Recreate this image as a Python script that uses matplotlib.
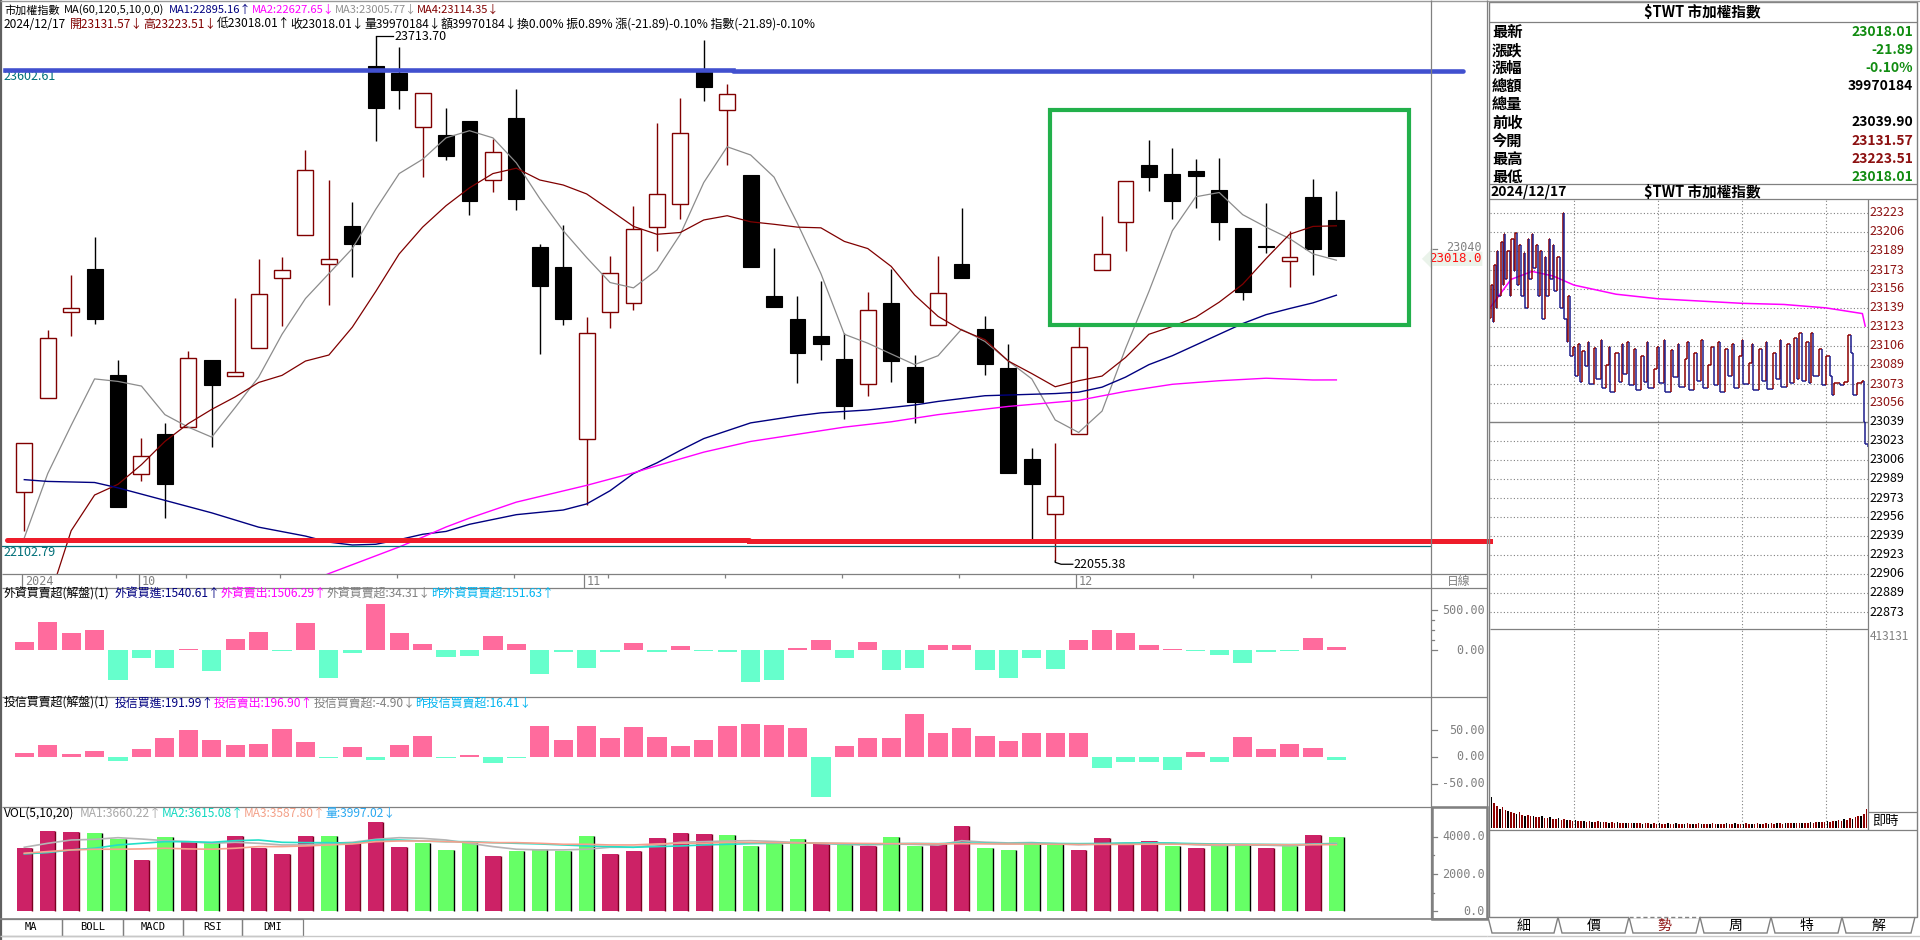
import numpy as np
import matplotlib
matplotlib.use("Agg")
import matplotlib.pyplot as plt
from matplotlib.collections import LineCollection
from matplotlib.patches import Rectangle, Polygon

FONT = ['Noto Sans CJK TC', 'DejaVu Sans']
MONO = ['DejaVu Sans Mono', 'Noto Sans CJK TC']
plt.rcParams['font.family'] = FONT

# ---------------- daily data, 2024/09/24 .. 2024/12/17 ----------------
opens = [22273, 22571, 22842, 22978, 22643, 22330, 22456, 22478, 22689, 22639,
         22729, 22950, 23084, 22993, 23114, 23618, 23597, 23428, 23401, 23445,
         23258, 23455, 23047, 22984, 22441, 22842, 22870, 23112, 23182, 23603,
         23479, 23275, 22892, 22820, 22766, 22694, 22614, 22871, 22668, 22800,
         22993, 22789, 22665, 22377, 22203, 22456, 22974, 23128, 23305, 23277,
         23286, 23226, 23107, 23050, 23002, 23205, 23131.57]
highs = [22428, 22785, 22960, 23080, 22690, 22445, 22492, 22718, 22689, 22885,
         23011, 23015, 23354, 23259, 23189, 23713.70, 23680, 23533, 23488, 23445,
         23389, 23547, 23056, 23116, 22826, 23019, 23177, 23440, 23519, 23700,
         23561, 23275, 23045, 22892, 22940, 22777, 22905, 22978, 22706, 23020,
         23172, 22829, 22741, 22413, 22428, 22794, 23145, 23255, 23386, 23361,
         23326, 23329, 23107, 23188, 23097, 23261, 23223.51]
lows = [22151, 22571, 22767, 22804, 22225, 22309, 22193, 22478, 22416, 22639,
        22729, 22799, 23084, 22865, 22952, 23381, 23482, 23270, 23321, 23150,
        23222, 23165, 22710, 22802, 22232, 22793, 22850, 23036, 23135, 23509,
        23308, 22983, 22859, 22619, 22692, 22503, 22578, 22622, 22490, 22800,
        22948, 22644, 22335, 22123, 22055.38, 22456, 22974, 23036, 23225, 23137,
        23172, 23071, 22881, 23030, 22922, 22960, 23018.01]
closes = [22428, 22760, 22856, 22821, 22225, 22386, 22300, 22698, 22610, 22653,
          22898, 22974, 23290, 23009, 23056, 23488, 23544, 23533, 23336, 23194,
          23346, 23198, 22925, 22821, 22777, 22965, 23103, 23216, 23406, 23553,
          23530, 22983, 22859, 22714, 22742, 22546, 22847, 22688, 22557, 22901,
          22948, 22679, 22335, 22298, 22260, 22733, 23024, 23255, 23269, 23194,
          23273, 23125, 22904, 23046, 23017, 23039.90, 23018.01]

ma5 = [22128.7, 22331.8, 22484, 22630.8, 22622.9, 22608.2, 22518, 22478.5, 22446.9, 22540.5,
       22636.4, 22771.8, 22884.6, 22963.5, 23042.5, 23166.6, 23279.4, 23324.5, 23392.2, 23414.8,
       23392.2, 23313.3, 23200.5, 23098.9, 23014.3, 22935.3, 22918.4, 22974.8, 23087.6, 23251.2,
       23364, 23338.1, 23268.1, 23121.5, 22963.5, 22771.8, 22743.6, 22709.7, 22675.9, 22704.1,
       22787.6, 22749.2, 22687.2, 22630.8, 22501.1, 22461.6, 22529.2, 22726.7, 22907.1, 23098.9,
       23206.1, 23219.6, 23149.7, 23110.2, 23074.1, 23025.6, 23005.77]
ma10 = [21734, 21922, 22151.3, 22264.1, 22297.9, 22360, 22433.3, 22489.7, 22534.6, 22574,
        22619.5, 22642, 22687.2, 22706.3, 22794.3, 22907.1, 23025.6, 23110.2, 23177.9, 23234.3,
        23279.4, 23296.3, 23259.1, 23243.3, 23215.1, 23164.3, 23112.5, 23087.6, 23093.3, 23132.8,
        23146.3, 23127.1, 23119.2, 23110.2, 23108, 23065.1, 23042.5, 22986.1, 22895.9, 22828.2,
        22785.3, 22754.9, 22687.2, 22647.7, 22606, 22625.1, 22639.8, 22698.5, 22771.8, 22796.6,
        22825.9, 22873.3, 22929.7, 23010.9, 23087.6, 23112.5, 23114.35]
ma60_at = [0, 1, 3, 4, 6, 8, 10, 12, 13, 14, 15, 16, 17, 18, 19, 21, 23, 24, 25, 26,
           27, 28, 29, 30, 31, 33, 34, 36, 38, 39, 41, 44, 45, 46, 47, 48, 49, 50, 51, 52,
           53, 54, 55, 56]
ma60 = [22312.6, 22307, 22303.6, 22286.7, 22247.2, 22207.7, 22162.6, 22134.4, 22115.3, 22106.2,
        22108.5, 22123.1, 22140.0, 22149.1, 22171.6, 22202, 22216.7, 22235.9, 22277.6, 22331.8,
        22365.6, 22405.1, 22442.3, 22467.1, 22491.9, 22514.5, 22523.6, 22532.6, 22548.4, 22559.7,
        22577.7, 22584.5, 22589, 22604.8, 22636.4, 22675.9, 22704.1, 22737.9, 22771.8, 22805.6,
        22833.8, 22853, 22871, 22895.16]
ma120_at = [8, 10, 12, 13, 14, 15, 16, 17, 18, 19, 21, 24, 26, 27, 29, 31, 33, 35, 37, 39,
            42, 45, 47, 49, 51, 53, 55, 56]
ma120 = [21875, 21931, 21985, 22016, 22044, 22072, 22100, 22131, 22163, 22191,
         22241.6, 22294.6, 22334.1, 22356.6, 22399.5, 22433.3, 22455.9, 22478.5, 22495.4, 22518,
         22543.9, 22563.1, 22591.3, 22613.8, 22625.1, 22633, 22627.4, 22627.65]

blue_level = [23606.5, 23602.0]
red_level = [22120.8, 22117.4]
ref_level = 22102.79
box_lo, box_hi = 22802, 23479

month_at = [0, 5, 24, 45]
month_lab = ['2024', '10', '11', '12']
week_at = [4, 7, 11, 16, 21, 25, 30, 35, 40, 50, 55]

foreign = [104, 354, 217, 250, -375, -96, -221, 17, -262, 138,
           229, -12, 342, -346, -33, 575, 217, 79, -83, -75,
           175, 79, -300, -25, -221, -25, 88, -25, 50, -8,
           -30, -400, -380, 20, 120, -100, 100, -250, -230, 60,
           60, -250, -350, -100, -240, 130, 250, 210, 60, 15,
           -15, -60, -160, -20, -10, 151.63, 34.31]
trust = [7.5, 21.9, 5, 10.6, -6.9, 14.4, 35, 50, 31.3, 21.9,
         23.8, 51.9, 27.5, -1.9, 18.1, -5.6, 21.9, 38.8, -1.2, 3.1,
         -11.3, -1.2, 57.5, 31.3, 57.5, 35, 55.6, 36.9, 20, 31.3,
         58, 62, 60, 55, -75, 20, 35, 35, 80, 45,
         55, 40, 30, 45, 45, 45, -20, -10, -10, -25,
         10, -10, 38, 15, 25, 16.41, -4.90]
volume = [3427, 4338, 4266, 4230, 3909, 2767, 3998, 3766, 3713, 4052,
          3427, 3106, 4052, 4052, 3659, 4802, 3463, 3695, 3302, 3659,
          2981, 3249, 3356, 3249, 4052, 3106, 3249, 3945, 4213, 4177,
          4100, 3500, 3600, 3900, 3600, 3550, 3500, 4000, 3500, 3600,
          4600, 3400, 3300, 3600, 3700, 3300, 3950, 3700, 3800, 3500,
          3400, 3600, 3600, 3400, 3500, 4100, 3997.02]
vol_up = [1, 1, 1, 0, 0, 1, 0, 1, 0, 1, 1, 1, 1, 0, 1, 1, 1, 0, 0, 0,
          1, 0, 0, 0, 0, 1, 1, 1, 1, 1, 0, 0, 0, 0, 1, 0, 1, 0, 0, 1,
          1, 0, 0, 0, 0, 1, 1, 1, 1, 0, 1, 0, 0, 1, 0, 1, 0]
vma5 = [3445, 3659, 3838, 3873, 3963, 3891, 3802, 3748, 3659, 3713,
        3659, 3570, 3570, 3659, 3713, 3873, 3963, 3927, 3838, 3659,
        3481, 3338, 3302, 3302, 3338, 3445, 3445, 3570, 3713, 3748,
        3784, 3800, 3760, 3700, 3650, 3600, 3560, 3620, 3600, 3560,
        3800, 3720, 3680, 3700, 3640, 3580, 3620, 3680, 3690, 3660,
        3580, 3540, 3560, 3560, 3520, 3620, 3660.22]
vma10 = [3088, 3159, 3302, 3392, 3570, 3659, 3748, 3748, 3713, 3802,
         3838, 3713, 3695, 3695, 3659, 3838, 3838, 3784, 3748, 3748,
         3695, 3659, 3624, 3570, 3516, 3481, 3445, 3481, 3516, 3570,
         3606, 3640, 3660, 3680, 3660, 3640, 3620, 3640, 3650, 3640,
         3680, 3660, 3640, 3660, 3650, 3640, 3650, 3670, 3680, 3670,
         3640, 3620, 3610, 3600, 3590, 3605, 3615.08]
vma20 = [3124, 3213, 3302, 3338, 3338, 3356, 3392, 3356, 3338, 3392,
         3481, 3481, 3517, 3570, 3624, 3749, 3784, 3784, 3749, 3713,
         3695, 3695, 3659, 3606, 3606, 3570, 3570, 3624, 3659, 3659,
         3713, 3700, 3690, 3680, 3670, 3660, 3650, 3640, 3640, 3630,
         3640, 3630, 3620, 3620, 3610, 3600, 3600, 3600, 3610, 3610,
         3600, 3590, 3590, 3585, 3580, 3585, 3587.80]

# ---------------- intraday 2024/12/17 ----------------
quote_lab = ['最新', '漲跌', '漲幅', '總額', '總量', '前收', '今開', '最高', '最低']
quote_val = ['23018.01', '-21.89', '-0.10%', '39970184', '', '23039.90', '23131.57', '23223.51', '23018.01']
prev_close = 23039.90
it_min = [0, 1, 2, 3, 4, 5, 6, 8, 9, 10, 11, 12, 14, 15, 17, 18, 19, 21, 22, 24,
          25, 27, 28, 30, 31, 33, 34, 36, 37, 39, 40, 42, 43, 45, 46, 48, 50, 52, 53, 55,
          56, 57, 59, 61, 63, 64, 66, 68, 70, 71, 74, 76, 79, 80, 83, 85, 86, 89, 92, 94,
          95, 98, 99, 103, 104, 108, 110, 112, 113, 117, 119, 121, 124, 125, 129, 131, 134, 135, 139, 141,
          142, 146, 148, 151, 152, 156, 158, 160, 163, 164, 168, 170, 173, 174, 178, 180, 181, 185, 187, 188,
          192, 194, 197, 198, 202, 204, 207, 208, 212, 214, 217, 219, 221, 223, 226, 228, 229, 231, 235, 237,
          240, 243, 244, 246, 250, 253, 256, 258, 259, 262, 266, 267, 268, 270]
it_px = [23131, 23160, 23128, 23178, 23140, 23190, 23150, 23198, 23160, 23205, 23165, 23190, 23150, 23200, 23172, 23206, 23160, 23195, 23150, 23188,
         23140, 23200, 23165, 23205, 23175, 23195, 23150, 23190, 23130, 23185, 23150, 23200, 23165, 23195, 23155, 23185, 23140, 23223.5, 23130, 23110,
         23150, 23098, 23106, 23080, 23108, 23075, 23102, 23089, 23110, 23073, 23105, 23078, 23112, 23070, 23090, 23106, 23066, 23100, 23075, 23108,
         23082, 23110, 23072, 23104, 23068, 23098, 23075, 23110, 23070, 23086, 23106, 23074, 23112, 23066, 23103, 23079, 23108, 23071, 23095, 23110,
         23068, 23100, 23076, 23112, 23070, 23090, 23106, 23072, 23110, 23066, 23104, 23080, 23108, 23070, 23098, 23112, 23073, 23092, 23108, 23068,
         23104, 23076, 23110, 23069, 23100, 23078, 23112, 23071, 23108, 23074, 23114, 23078, 23118, 23076, 23110, 23074, 23118, 23080, 23104, 23072,
         23098, 23080, 23064, 23074, 23072, 23075, 23116, 23100, 23064, 23074, 23076, 23040, 23021, 23018.01]
avg_min = [0, 15, 30, 45, 60, 90, 120, 150, 180, 210, 240, 266, 268]
avg_px = [23140, 23165, 23172, 23168, 23160, 23152, 23148, 23146, 23144, 23143, 23140, 23135, 23124]
it_vol = [64, 52, 46, 40, 44, 38, 35, 33, 31, 30, 34, 28, 26, 27, 24, 25, 23, 22, 24, 21,
          20, 22, 19, 18, 20, 17, 18, 16, 17, 15, 16, 15, 14, 15, 13, 14, 13, 12, 14, 12,
          13, 12, 11, 12, 11, 12, 11, 10, 11, 10, 11, 10, 10, 11, 9, 10, 10, 9, 10, 9,
          10, 9, 9, 10, 9, 9, 10, 9, 9, 9, 10, 9, 9, 9, 10, 9, 9, 9, 9, 10,
          9, 9, 9, 9, 10, 9, 9, 10, 9, 9, 9, 10, 9, 9, 9, 10, 9, 9, 10, 9,
          10, 9, 10, 10, 9, 10, 10, 11, 10, 10, 11, 10, 11, 11, 12, 11, 12, 12, 13, 12,
          14, 13, 15, 14, 16, 15, 18, 17, 20, 19, 22, 24, 26, 30, 40]

# ---------------- layout helpers ----------------
W, H = 1920, 940
fig = plt.figure(figsize=(W / 100, H / 100), dpi=100)
fig.patch.set_facecolor('white')


def px_axes(l, t, r, b, z=2):
    ax = fig.add_axes([l / W, 1 - b / H, (r - l) / W, (b - t) / H], zorder=z)
    ax.set_axis_off()
    return ax


ov = px_axes(0, 0, W, H, z=6)
ov.set_xlim(0, W)
ov.set_ylim(H, 0)
GRAY = '#808080'


def line(xs, ys, c=GRAY, lw=0.9, **kw):
    ov.plot(xs, ys, color=c, lw=lw, solid_capstyle='butt', **kw)


def seg_text(x, y, parts, size=9):
    r = fig.canvas.get_renderer()
    for s, col, gap in parts:
        t = ov.text(x, y, s, color=col, fontsize=size, va='center', ha='left')
        x += t.get_window_extent(r).width + gap


n = len(closes)
idx = np.arange(n)
o, h, l, c = map(np.array, (opens, highs, lows, closes))
up = c >= o
X0, PX = 24.3, 23.43


def xi(p):
    return (p - X0) / PX


def price_at(y):
    return 23764.46 - 3.1586 * (y - 20)


XL = (xi(2), xi(1431))

# ---------------- main candle panel ----------------
main = px_axes(2, 2, 1431, 574)
main.set_xlim(*XL)
main.set_ylim(price_at(574), price_at(2))
DR = '#800000'
main.vlines(idx[up], l[up], h[up], color=DR, lw=1.0, zorder=2)
main.vlines(idx[~up], l[~up], h[~up], color='black', lw=1.0, zorder=2)
main.bar(idx[up], c[up] - o[up], bottom=o[up], width=0.68, facecolor='white',
         edgecolor=DR, lw=1.0, zorder=3)
main.bar(idx[~up], o[~up] - c[~up], bottom=c[~up], width=0.68, facecolor='black',
         edgecolor='black', lw=0.8, zorder=3)
main.plot(idx, ma5, color='#8c8c8c', lw=0.9, zorder=4)
main.plot(idx, ma10, color='#800000', lw=0.9, zorder=4)
main.plot(ma60_at, ma60, color='#000080', lw=1.0, zorder=4)
main.plot(ma120_at, ma120, color='#ff00ff', lw=1.0, zorder=4)

main.plot([xi(5), xi(733)], [blue_level[0]] * 2, color='#4150cf', lw=3.3, clip_on=False, zorder=5)
main.plot([xi(733), xi(1463)], [blue_level[1]] * 2, color='#4150cf', lw=3.3, clip_on=False, zorder=5,
          solid_capstyle='round')
main.plot([xi(7), xi(749)], [red_level[0]] * 2, color='#ee1c2a', lw=3.6, clip_on=False, zorder=5,
          solid_capstyle='round')
main.plot([xi(749), xi(1490)], [red_level[1]] * 2, color='#ee1c2a', lw=3.6, clip_on=False, zorder=5)
main.plot(XL, [ref_level] * 2, color='#006f78', lw=0.9, zorder=4)
main.add_patch(Rectangle((xi(1049.5), box_lo), xi(1408.7) - xi(1049.5), box_hi - box_lo,
                         fill=False, edgecolor='#22b04b', lw=3.0, zorder=5))

hi_i = int(np.argmax(h))
lo_i = int(np.argmin(l))
main.plot([hi_i, hi_i + 0.75], [h[hi_i]] * 2, color='black', lw=0.9)
main.text(hi_i + 0.78, h[hi_i], '%.2f' % h[hi_i], fontsize=9, va='center', ha='left')
main.plot([lo_i, lo_i, lo_i + 0.25, lo_i + 0.75], [l[lo_i], l[lo_i] - 4, l[lo_i] - 10, l[lo_i] - 10],
          color='black', lw=0.9, clip_on=False)
main.text(lo_i + 0.78, l[lo_i] - 10, '%.2f' % l[lo_i], fontsize=9, va='center', ha='left', clip_on=False)
main.text(xi(3), blue_level[0], '%.2f' % 23602.61, color='#006f78', fontsize=9, va='top', ha='left')
main.text(xi(3), ref_level, '%.2f' % ref_level, color='#006f78', fontsize=9, va='top', ha='left')

yt = main.get_yaxis_transform()
main.plot([1.0, 1.004], [prev_close] * 2, color=GRAY, lw=0.9, transform=yt, clip_on=False)
main.text(1.0355, prev_close + 5, '23040', color=GRAY, fontsize=8.5, family=MONO,
          transform=yt, ha='right', va='center', clip_on=False)
main.text(1.0355, c[-1] - 8, '23018.0', color='#ff1010', fontsize=9, family=MONO,
          transform=yt, ha='right', va='center', clip_on=False,
          bbox=dict(boxstyle='larrow,pad=0.05', fc='#eaf3ea', ec='none'))

seg_text(4, 10, [('市加權指數', 'black', 4), ('MA(60,120,5,10,0,0)', 'black', 5),
                 ('MA1:22895.16↑', '#000080', 0), ('MA2:22627.65↓', '#ff00ff', 0),
                 ('MA3:23005.77↓', '#909090', 0), ('MA4:23114.35↓', '#800000', 0)], size=8.0)
seg_text(4, 24, [('2024/12/17', 'black', 4), ('開23131.57↓', '#800000', 0),
                 ('高23223.51↓', '#800000', 0), ('低23018.01↑', 'black', 0),
                 ('收23018.01↓', 'black', 0), ('量39970184↓', 'black', 0),
                 ('額39970184↓', 'black', 0),
                 ('換0.00% 振0.89% 漲(-21.89)-0.10% 指數(-21.89)-0.10%', 'black', 0)], size=8.6)

# date strip
strip = px_axes(2, 574, 1431, 588)
strip.set_xlim(*XL)
strip.set_ylim(1, 0)
strip.vlines(np.array(month_at) - 0.1, 0, 1, color=GRAY, lw=0.9)
strip.vlines(np.array(week_at) - 0.1, 0, 0.3, color=GRAY, lw=0.9)
for m, s in zip(month_at, month_lab):
    strip.text(m + 0.02, 0.55, s, color=GRAY, fontsize=8.5, family=MONO, va='center', ha='left')
ov.text(1459, 581, '日線', color=GRAY, fontsize=8.5, ha='center', va='center')

# ---------------- sub panels ----------------
PINK, AQUA = '#ff6b9d', '#66ffcc'


def sub_panel(t, b, ylim):
    ax = px_axes(2, t, 1431, b)
    ax.set_xlim(*XL)
    ax.set_ylim(*ylim)
    return ax


p2 = sub_panel(588, 697, (-587.5, 775))
fv = np.array(foreign)
p2.bar(idx, fv, width=0.82, color=[PINK if v >= 0 else AQUA for v in fv])
p3 = sub_panel(697, 807, (-93.75, 112.5))
tv = np.array(trust)
p3.bar(idx, tv, width=0.82, color=[PINK if v >= 0 else AQUA for v in tv])
p4 = sub_panel(807, 919, (-432, 5621))
vv = np.array(volume)
vu = np.array(vol_up, dtype=bool)
p4.bar(idx[vu], vv[vu], width=0.66, color='#cc2266')
p4.bar(idx[~vu], vv[~vu], width=0.66, color='#66ff66')
p4.vlines(idx[vu] + 0.33, 0, vv[vu], color='#7a0020', lw=1.0)
p4.vlines(idx[~vu] + 0.33, 0, vv[~vu], color='black', lw=1.0)
p4.plot(idx, vma5, color='#b4b4b4', lw=1.2)
p4.plot(idx, vma10, color='#22e0c8', lw=1.2)
p4.plot(idx, vma20, color='#f8a08c', lw=1.2)

LBLX = (1485 - 2) / 1429.0
for ax, ticks, fmt, minors in ((p2, [500, 0], '%.2f', [125, 250, 375]),
                               (p3, [50, 0, -50], '%.2f', []),
                               (p4, [4000, 2000, 0], '%.1f', [1000, 3000])):
    tr = ax.get_yaxis_transform()
    for v in ticks:
        ax.plot([1.0008, 1.004], [v, v], color=GRAY, lw=0.9, transform=tr, clip_on=False)
        ax.text(LBLX, v, fmt % v, color=GRAY, fontsize=8.5, family=MONO, transform=tr,
                ha='right', va='center', clip_on=False)
    for v in minors:
        ax.plot([1.0008, 1.0018], [v, v], color=GRAY, lw=0.9, transform=tr, clip_on=False)

seg_text(4, 594, [('外資買賣超(解盤)(1)', 'black', 5), ('外資買進:1540.61↑', '#000080', 0),
                  ('外資賣出:1506.29↑', '#ff00ff', 0), ('外資買賣超:34.31↓', '#808080', 0),
                  ('昨外資買賣超:151.63↑', '#00b4f0', 0)], size=8.6)
seg_text(4, 703, [('投信買賣超(解盤)(1)', 'black', 5), ('投信買進:191.99↑', '#000080', 0),
                  ('投信賣出:196.90↑', '#ff00ff', 0), ('投信買賣超:-4.90↓', '#808080', 0),
                  ('昨投信買賣超:16.41↓', '#00b4f0', 0)], size=8.6)
seg_text(4, 813, [('VOL(5,10,20)', 'black', 5), ('MA1:3660.22↑', '#a8a8a8', 0),
                  ('MA2:3615.08↑', '#10d8c0', 0), ('MA3:3587.80↑', '#f4a088', 0),
                  ('量:3997.02↓', '#2aa8f0', 0)], size=8.6)

# frame of the left part
line([1, 1], [0, 940], c='#606060', lw=1.6)
line([0, 1920], [0.5, 0.5], c='#9a9a9a', lw=1.0)
line([1431, 1431], [0, 919])
line([1487, 1487], [0, 919])
line([2, 1431], [574, 574])
line([1431, 1487], [574, 574])
for y in (588, 697, 807):
    line([2, 1487], [y, y])
line([0, 1487], [919, 919], lw=1.2)
ov.add_patch(Rectangle((1432, 807), 55, 112, fill=False, edgecolor=GRAY, lw=1.8, zorder=7))
x0 = 0
for name, wd in zip(['MA', 'BOLL', 'MACD', 'RSI', 'DMI'], [62, 61, 60, 59, 61]):
    ov.add_patch(Rectangle((x0, 919), wd, 17, fill=False, edgecolor=GRAY, lw=0.9))
    ov.text(x0 + wd / 2, 927.5, name, fontsize=7.5, family=MONO, ha='center', va='center')
    x0 += wd
line([0, 1487], [936, 936], c='#c8c8c8', lw=1.0)

# ---------------- right quote panel ----------------
ov.add_patch(Rectangle((1489, 2), 428, 915, fill=False, edgecolor=GRAY, lw=1.0))
line([1489, 1917], [22, 22])
ov.text(1702, 12, '$TWT 市加權指數', fontsize=10.5, weight='bold', ha='center', va='center')
GREEN, DRED = '#118c11', '#8c1010'
qcol = [GREEN, GREEN, GREEN, 'black', 'black', 'black', DRED, DRED, GREEN]
for k, (lab, val) in enumerate(zip(quote_lab, quote_val)):
    y = 32 + 18.1 * k
    ov.text(1492, y, lab, fontsize=11, weight='bold', ha='left', va='center')
    ov.text(1913, y, val, fontsize=10, weight='bold', color=qcol[k], ha='right', va='center')
line([1489, 1917], [184, 184])
line([1489, 1917], [199, 199])
ov.text(1490, 192, '2024/12/17', fontsize=10, weight='bold', ha='left', va='center')
ov.text(1702, 192, '$TWT 市加權指數', fontsize=10.5, weight='bold', ha='center', va='center')

step = 350 / 21.0
levels = prev_close + np.arange(-10, 12) * step
ip = px_axes(1490, 200, 1868, 628)
ip.set_xlim(0, 270)
ip.set_ylim(levels[0] - 16 * step / 19, levels[-1] + 13 * step / 19)
for lv in levels:
    if abs(lv - prev_close) > 1:
        ip.axhline(lv, color=GRAY, lw=0.8, ls=(0, (1, 2)))
ip.axhline(prev_close, color=GRAY, lw=1.0)
for m in (60, 120, 180, 240):
    ip.axvline(m, color=GRAY, lw=0.8, ls=(0, (1, 2)))
ip.plot(avg_min, avg_px, color='#ff00ff', lw=1.1)
# tick line drawn as steps: flat until the next print, then a vertical move
segs, scol = [], []
for k in range(len(it_min) - 1):
    rising = it_px[k + 1] >= it_px[k]
    col = '#8b0000' if rising else '#1c1c8c'
    segs.append([(it_min[k], it_px[k]), (it_min[k + 1], it_px[k])])
    scol.append(scol[-1] if scol else '#8b0000')
    segs.append([(it_min[k + 1], it_px[k]), (it_min[k + 1], it_px[k + 1])])
    scol.append(col)
ip.add_collection(LineCollection(segs, colors=scol, linewidths=1.1))
tr = ip.get_yaxis_transform()
for lv in levels:
    col = DRED if lv > prev_close + 1 else 'black'
    ip.text(1.005, lv, '%d' % lv, color=col, fontsize=9, transform=tr, ha='left', va='center',
            clip_on=False)

iv = px_axes(1490, 630, 1868, 828)
iv.set_xlim(0, 270)
iv.set_ylim(0, 413131)
vx = np.arange(len(it_vol)) * 2 + 1
iv.bar(vx, np.array(it_vol) * 1000, width=1.1,
       color=['black' if k % 3 == 0 else '#8b0000' for k in range(len(it_vol))])
for m in (60, 120, 180, 240):
    iv.axvline(m, color=GRAY, lw=0.8, ls=(0, (1, 2)))
iv.text(1.005, 1.0, '413131', color=GRAY, fontsize=8.5, transform=iv.transAxes,
        ha='left', va='top', clip_on=False)
line([1490, 1868], [629, 629])
line([1868, 1868], [199, 830])
line([1489, 1917], [830, 830])
line([1868, 1917], [812, 812])
ov.text(1872, 822, '即時', fontsize=9.5, ha='left', va='center')

tab_x = [1488, 1558, 1629, 1700, 1771, 1842, 1915]
for k, ch in enumerate(['細', '價', '勢', '周', '特', '解']):
    a, b = tab_x[k], tab_x[k + 1]
    ov.add_patch(Polygon([(a, 917), (a + 4, 933), (b - 4, 933), (b, 917)], closed=False,
                         fill=False, edgecolor=GRAY, lw=1.0))
    if k == 2:
        line([a, b], [917, 917], c='white', lw=1.5)
        line([a, b], [917, 917], c=GRAY, lw=1.0, ls=(0, (3, 2)))
    ov.text((a + b) / 2, 926, ch, fontsize=10, ha='center', va='center',
            color=DRED if k == 2 else 'black')
line([1487, 1920], [936, 936], c='#c8c8c8', lw=1.0)

fig.savefig('out.png', dpi=100, facecolor='white')
